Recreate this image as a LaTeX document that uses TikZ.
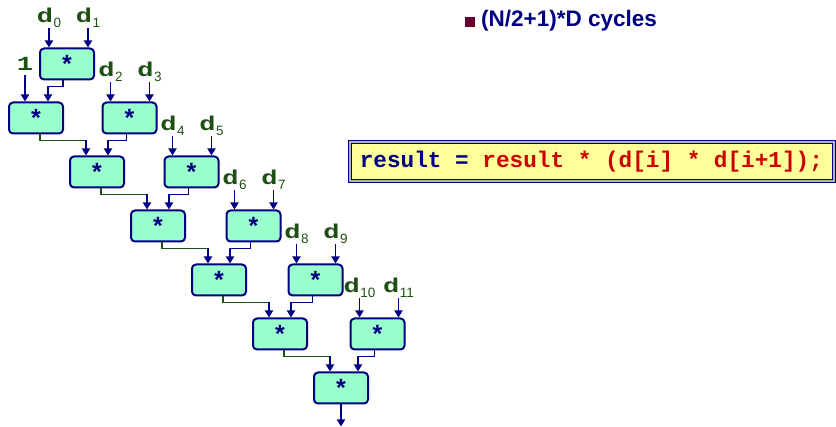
\documentclass[tikz,border=0pt]{standalone}
\usepackage{fontspec}
\setmainfont{Liberation Sans}
\setmonofont{Liberation Mono}
\newfontfamily\opfont[FakeStretch=1.35]{Liberation Mono}
\usetikzlibrary{positioning,arrows.meta}

\definecolor{navyblue}{RGB}{0,0,128}
\definecolor{labelgreen}{RGB}{30,80,20}
\definecolor{boxfill}{RGB}{153,255,204}
\definecolor{codefill}{RGB}{255,255,153}
\definecolor{codered}{RGB}{204,0,0}
\definecolor{bulletred}{RGB}{102,0,51}

% operand name: bold d with a plain lowered index
\newcommand{\opd}[1]{d\kern0.5pt\raisebox{-5pt}{\fontsize{13.5}{13.5}\selectfont\rmfamily\mdseries #1}}

\begin{document}
\begin{tikzpicture}[x=1pt, y=-1pt, node distance=54pt]
    \tikzset{
        mult/.style = {rectangle, rounded corners=4pt, line width=2pt, minimum width=54pt, minimum height=31pt,
                       inner sep=0pt, draw=navyblue, fill=boxfill, text=navyblue, font=\fontsize{25}{25}\selectfont\bfseries},
        operand/.style = {inner sep=1pt, text=labelgreen, font=\fontsize{20}{20}\selectfont\opfont\bfseries},
        arrow/.style = {line width=1.9pt, draw=navyblue, -{Stealth[inset=0pt, length=7pt, width=8pt]}},
        wire/.style = {line width=1.9pt, draw=labelgreen, line cap=rect},
        codebox/.style = {rectangle, draw=navyblue, line width=0.7pt, double=gray!60, double distance=2.4pt,
                          fill=codefill, minimum width=484pt, minimum height=39pt}
    }
    \useasboundingbox (0,0) rectangle (836,427);

    % multiplier tree
    \node (l1) [mult] at (36,118) {*};
    \node (a0) [mult, above of=l1, xshift=31pt] {*};
    \node (r1) [mult, right of=l1, xshift=39.5pt] {*};
    \node (l2) [mult, below of=l1, xshift=61pt] {*};
    \node (r2) [mult, below of=r1, xshift=62pt] {*};
    \node (l3) [mult, below of=l2, xshift=61pt] {*};
    \node (r3) [mult, below of=r2, xshift=62pt] {*};
    \node (l4) [mult, below of=l3, xshift=61pt] {*};
    \node (r4) [mult, below of=r3, xshift=62pt] {*};
    \node (l5) [mult, below of=l4, xshift=61pt] {*};
    \node (r5) [mult, below of=r4, xshift=62pt] {*};
    \node (fin) [mult, below of=l5, xshift=61pt] {*};
    \coordinate[below=22pt of fin] (fout);

    % operands
    \node (d0) [operand, above=19pt of a0.north, xshift=-18pt] {\opd{0}};
    \node (d1) [operand, above=19pt of a0.north, xshift=21pt] {\opd{1}};
    \node (one) [operand, above=30pt of l1.north, xshift=-11pt] {1};
    \node (d2) [operand, above=19pt of r1.north, xshift=-19pt] {\opd{2}};
    \node (d3) [operand, above=19pt of r1.north, xshift=20pt] {\opd{3}};
    \node (d4) [operand, above=19pt of r2.north, xshift=-19pt] {\opd{4}};
    \node (d5) [operand, above=19pt of r2.north, xshift=20pt] {\opd{5}};
    \node (d6) [operand, above=19pt of r3.north, xshift=-19pt] {\opd{6}};
    \node (d7) [operand, above=19pt of r3.north, xshift=20pt] {\opd{7}};
    \node (d8) [operand, above=19pt of r4.north, xshift=-19pt] {\opd{8}};
    \node (d9) [operand, above=19pt of r4.north, xshift=20pt] {\opd{9}};
    \node (d10) [operand, above=19pt of r5.north, xshift=-18pt] {\opd{10}};
    \node (d11) [operand, above=19pt of r5.north, xshift=21pt] {\opd{11}};

    \draw [arrow] (d0) -- (d0 |- a0.north);
    \draw [arrow] (d1) -- (d1 |- a0.north);
    \draw [arrow, shorten <=4pt] (one) -- (one |- l1.north);
    \draw [arrow] (d2) -- (d2 |- r1.north);
    \draw [arrow] (d3) -- (d3 |- r1.north);
    \draw [arrow] (d4) -- (d4 |- r2.north);
    \draw [arrow] (d5) -- (d5 |- r2.north);
    \draw [arrow] (d6) -- (d6 |- r3.north);
    \draw [arrow] (d7) -- (d7 |- r3.north);
    \draw [arrow] (d8) -- (d8 |- r4.north);
    \draw [arrow] (d9) -- (d9 |- r4.north);
    \draw [arrow] (d10) -- (d10 |- r5.north);
    \draw [arrow] (d11) -- (d11 |- r5.north);

    % pair products into the chain
    \draw [arrow] ([xshift=-4pt]a0.south) |- ([xshift=12pt, yshift=15pt]l1.north) -- ([xshift=12pt]l1.north);
    \draw [arrow] ([xshift=-3pt]r1.south) |- ([xshift=11pt, yshift=15pt]l2.north) -- ([xshift=11pt]l2.north);
    \draw [arrow] ([xshift=-3pt]r2.south) |- ([xshift=11pt, yshift=15pt]l3.north) -- ([xshift=11pt]l3.north);
    \draw [arrow] ([xshift=-3pt]r3.south) |- ([xshift=11pt, yshift=15pt]l4.north) -- ([xshift=11pt]l4.north);
    \draw [arrow] ([xshift=-3pt]r4.south) |- ([xshift=11pt, yshift=15pt]l5.north) -- ([xshift=11pt]l5.north);
    \draw [arrow] ([xshift=-3pt]r5.south) |- ([xshift=17pt, yshift=15pt]fin.north) -- ([xshift=17pt]fin.north);

    % running result
    \draw [wire] ([xshift=4pt]l1.south) |- ([xshift=-11pt, yshift=15pt]l2.north);
    \draw [arrow] ([xshift=-11pt, yshift=15pt]l2.north) -- ([xshift=-11pt]l2.north);
    \draw [wire] ([xshift=4pt]l2.south) |- ([xshift=-11pt, yshift=15pt]l3.north);
    \draw [arrow] ([xshift=-11pt, yshift=15pt]l3.north) -- ([xshift=-11pt]l3.north);
    \draw [wire] ([xshift=4pt]l3.south) |- ([xshift=-11pt, yshift=15pt]l4.north);
    \draw [arrow] ([xshift=-11pt, yshift=15pt]l4.north) -- ([xshift=-11pt]l4.north);
    \draw [wire] ([xshift=4pt]l4.south) |- ([xshift=-11pt, yshift=15pt]l5.north);
    \draw [arrow] ([xshift=-11pt, yshift=15pt]l5.north) -- ([xshift=-11pt]l5.north);
    \draw [wire] ([xshift=4pt]l5.south) |- ([xshift=-11pt, yshift=15pt]fin.north);
    \draw [arrow] ([xshift=-11pt, yshift=15pt]fin.north) -- ([xshift=-11pt]fin.north);
    \draw [arrow] (fin) -- (fout);

    % loop body
    \node (code) [codebox] at (592,161.5) {};
    \node (codeline) [anchor=west, inner sep=0pt, text=codered, font=\fontsize{22.7}{24}\selectfont\ttfamily\bfseries]
        at ([xshift=10pt]code.west) {\textcolor{navyblue}{result =} result * (d[i] * d[i+1]);};

    % cycle count
    \node (bullet) [fill=bulletred, inner sep=0pt, minimum size=10pt, anchor=south west] at (465,27) {};
    \node (cycles) [anchor=base west, inner sep=0pt, text=navyblue, font=\fontsize{22.5}{24}\selectfont\bfseries]
        at (481,27) {(N/2+1)*D cycles};
\end{tikzpicture}
\end{document}
